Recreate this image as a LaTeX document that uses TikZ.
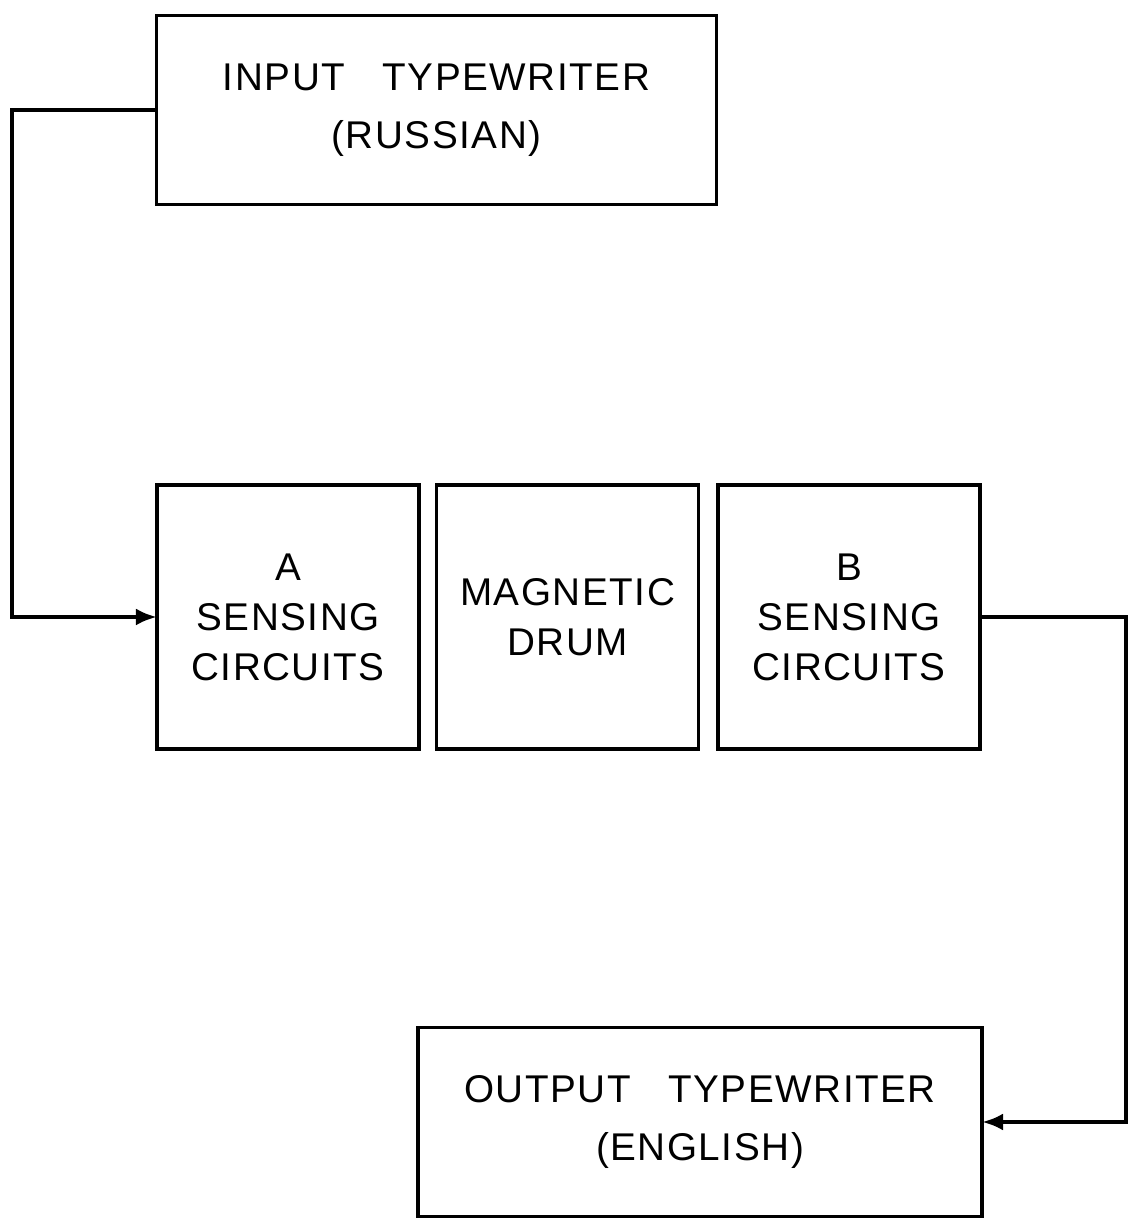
\documentclass[tikz,border=0pt]{standalone}
\usepackage{fontspec}
\setmainfont[LetterSpace=4]{Liberation Sans}
\usepackage{tikz}
\usetikzlibrary{arrows.meta,positioning,calc}

\begin{document}
\begin{tikzpicture}[node distance=0.3cm,
    font=\fontsize{22}{28.5}\selectfont,
    unit/.style={draw, line width=2pt, align=center, inner sep=0pt},
    typer/.style={unit, minimum width=11.2cm, minimum height=3.78cm},
    block/.style={unit, minimum width=5.24cm, minimum height=5.28cm},
    link/.style={line width=2.4pt, -{Latex[length=4.2mm,width=3.4mm]}, shorten >=-1pt}]
  \useasboundingbox (0,0) rectangle (22.58,24.52);
  \node[typer] (input) at (8.73,22.32) {INPUT\hspace{0.75cm}TYPEWRITER\\[4.5pt](RUSSIAN)};
  \node[block] (drum) at (11.35,12.18) {MAGNETIC\\DRUM};
  \node[block, left=0.28cm of drum] (asense) {A\\SENSING\\CIRCUITS};
  \node[block, right=0.32cm of drum] (bsense) {B\\SENSING\\CIRCUITS};
  \node[typer, minimum width=11.28cm] (output) at (14.0,2.08) {OUTPUT\hspace{0.75cm}TYPEWRITER\\[4.5pt](ENGLISH)};
  \coordinate (lft) at (0.24,0);
  \coordinate (rgt) at (22.52,0);
  \draw[link] (input.west) -- (input.west -| lft) |- (asense.west);
  \draw[link] (bsense.east) -- (bsense.east -| rgt) |- (output.east);
\end{tikzpicture}
\end{document}
